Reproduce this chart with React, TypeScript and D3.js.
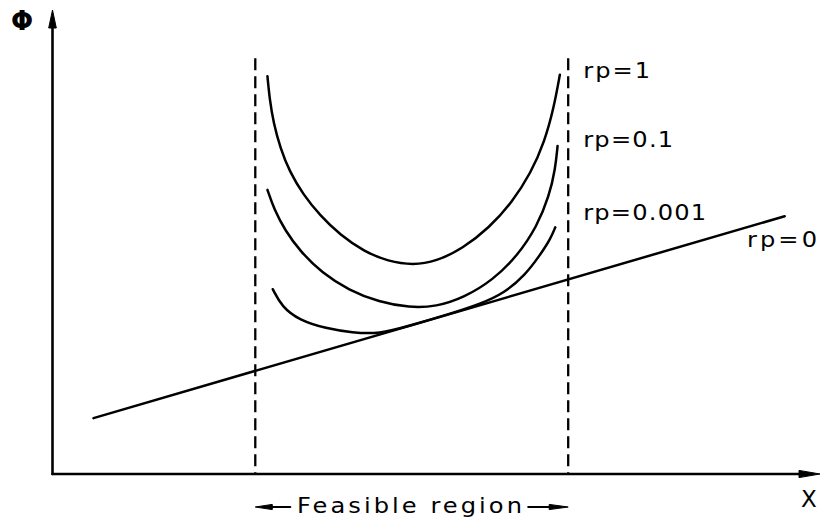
import React from "react";
import * as d3 from "d3";

// Penalty-function sketch: Φ versus X for several penalty weights rp.
// All values are in plot units (0..10 on each axis).

const feasibleBounds: number[] = [2.67, 6.79];
const boundTop = 9.0;

const rp0Line: [number, number][] = [
  [0.54, 1.21],
  [9.64, 5.58],
];

const rp1Curve: [number, number][] = [
  [2.83, 8.61],
  [2.86, 8.1],
  [2.91, 7.6],
  [3.0, 7.05],
  [3.12, 6.55],
  [3.3, 6.05],
  [3.52, 5.6],
  [3.79, 5.17],
  [4.1, 4.82],
  [4.42, 4.6],
  [4.75, 4.52],
  [5.05, 4.6],
  [5.4, 4.88],
  [5.75, 5.33],
  [6.05, 5.88],
  [6.3, 6.52],
  [6.48, 7.2],
  [6.6, 7.92],
  [6.68, 8.64],
];

const rp01Curve: [number, number][] = [
  [2.83, 6.15],
  [2.92, 5.72],
  [3.06, 5.28],
  [3.26, 4.82],
  [3.55, 4.35],
  [3.9, 3.98],
  [4.3, 3.72],
  [4.7, 3.6],
  [5.05, 3.62],
  [5.42, 3.82],
  [5.8, 4.2],
  [6.12, 4.72],
  [6.38, 5.36],
  [6.54, 6.02],
  [6.62, 6.6],
  [6.65, 7.1],
];

const rp0001Curve: [number, number][] = [
  [2.9, 4.0],
  [3.02, 3.62],
  [3.25, 3.33],
  [3.6, 3.15],
  [3.95, 3.06],
  [4.3, 3.03],
  [4.7, 3.21],
  [5.2, 3.45],
  [5.65, 3.69],
  [5.95, 3.92],
  [6.22, 4.3],
  [6.42, 4.74],
  [6.56, 5.1],
  [6.62, 5.34],
];

const curveLabels: string[] = ["rp=1", "rp=0.1", "rp=0.001", "rp=0"];
const axisLabels: string[] = ["Φ", "X"];
const regionLabel = "Feasible region";

const W = 823;
const H = 522;
const FONT = "'DejaVu Sans', sans-serif";
const STRETCH = 1.15;

export default function App() {
  const x = d3.scaleLinear().domain([0, 10]).range([52.5, 812]);
  const y = d3.scaleLinear().domain([0, 10]).range([474, 12]);

  const curve = d3
    .line<[number, number]>()
    .x((d) => x(d[0]))
    .y((d) => y(d[1]))
    .curve(d3.curveBasis);
  const straight = d3
    .line<[number, number]>()
    .x((d) => x(d[0]))
    .y((d) => y(d[1]));

  const x0 = x(0);
  const y0 = y(0);
  const yTip = 10;
  const xTip = 820;

  const leftB = x(feasibleBounds[0]);
  const rightB = x(feasibleBounds[1]);
  const regionY = 507;

  // label layout: [x, baseline, text length]
  const labelLayout: [number, number, number][] = [
    [rightB + 15, 78, 67],
    [rightB + 15, 147, 90],
    [rightB + 15, 220, 123],
    [747, 247, 70],
  ];

  const stretched = (
    key: string,
    t: string,
    lx: number,
    ly: number,
    len: number
  ) => (
    <text
      key={key}
      transform={`translate(${lx},${ly}) scale(${STRETCH},1)`}
      fontSize={21}
      textLength={len / STRETCH}
      lengthAdjust="spacing"
    >
      {t}
    </text>
  );

  return (
    <svg
      width={W}
      height={H}
      style={{ position: "absolute", left: 0, top: 0, background: "#fff" }}
    >
      <g fill="none" stroke="#000" strokeLinecap="round" strokeLinejoin="round">
        {/* axes */}
        <line x1={x0} y1={y0} x2={x0} y2={yTip + 14} strokeWidth={2.6} />
        <line x1={x0} y1={y0} x2={xTip - 16} y2={y0} strokeWidth={2.6} />

        {/* feasible region bounds */}
        {feasibleBounds.map((b, i) => (
          <line
            key={i}
            x1={x(b)}
            x2={x(b)}
            y1={y(boundTop)}
            y2={y0}
            strokeWidth={2.3}
            strokeDasharray="12 6"
            strokeLinecap="butt"
          />
        ))}

        {/* unpenalised objective */}
        <path d={straight(rp0Line) ?? ""} strokeWidth={2.5} />

        {/* penalised objectives */}
        {[rp1Curve, rp01Curve, rp0001Curve].map((c, i) => (
          <path key={i} d={curve(c) ?? ""} strokeWidth={2.5} />
        ))}

        {/* feasible region arrow shafts */}
        <line x1={leftB + 14} x2={leftB + 35} y1={regionY} y2={regionY} strokeWidth={2} />
        <line x1={rightB - 40} x2={rightB - 16} y1={regionY} y2={regionY} strokeWidth={2} />
      </g>

      {/* arrow heads */}
      <g fill="#000" stroke="#000" strokeWidth={1} strokeLinejoin="round">
        <path d={`M${x0},${yTip} L${x0 + 3.8},${yTip + 18} L${x0 - 3.8},${yTip + 18} Z`} />
        <path d={`M${xTip},${y0} L${xTip - 21},${y0 + 3.6} L${xTip - 21},${y0 - 3.6} Z`} />
        <path d={`M${leftB},${regionY} L${leftB + 17},${regionY - 2.6} L${leftB + 17},${regionY + 2.6} Z`} />
        <path d={`M${rightB},${regionY} L${rightB - 19},${regionY - 2.6} L${rightB - 19},${regionY + 2.6} Z`} />
      </g>

      {/* text */}
      <g fontFamily={FONT} fill="#000">
        <text x={11} y={30} fontSize={26} fontWeight="bold">
          {axisLabels[0]}
        </text>
        <text x={801} y={507} fontSize={23}>
          {axisLabels[1]}
        </text>
        {curveLabels.map((t, i) =>
          stretched(t, t, labelLayout[i][0], labelLayout[i][1], labelLayout[i][2])
        )}
        {stretched("region", regionLabel, 297, 513, 225)}
      </g>
    </svg>
  );
}
